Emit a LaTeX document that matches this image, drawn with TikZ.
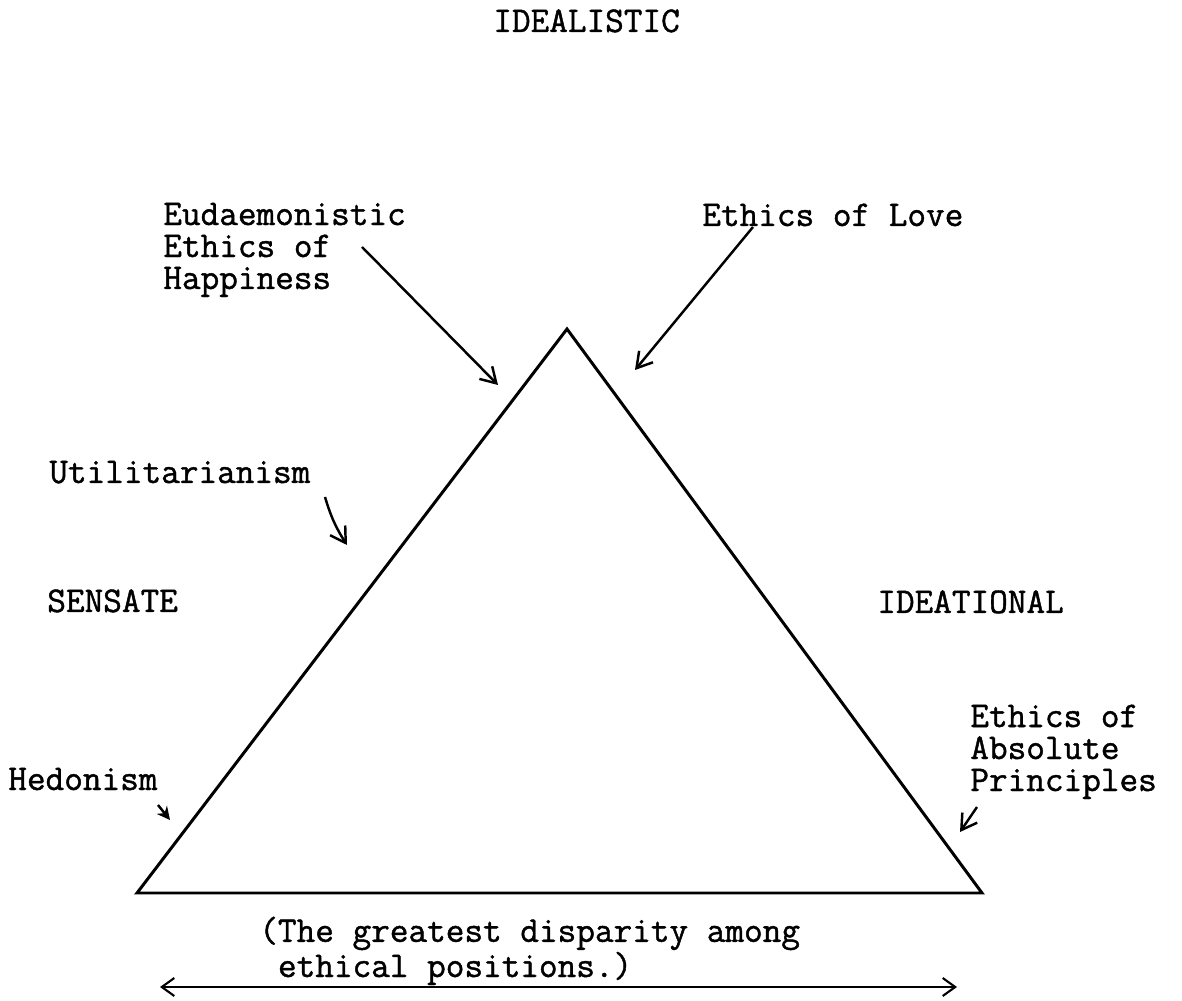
\documentclass[tikz,border=0pt]{standalone}
\usepackage{fontspec}
\setmonofont{Latin Modern Mono}[FakeBold=1.2]
\usepackage{tikz}
\usetikzlibrary{arrows.meta}
\newcommand{\typewrite}{\fontsize{20.6}{18.2}\selectfont\ttfamily}

\begin{document}
\begin{tikzpicture}[
    tag/.style={inner sep=0pt, anchor=base west, align=left, font=\typewrite},
    side/.style={line width=1.7pt, line join=miter},
    pointer/.style={-{Straight Barb[length=3mm, width=3.6mm]}, line width=1.4pt},
    stub/.style={-{Stealth[length=2.6mm, width=2.6mm]}, line width=1.4pt},
    span/.style={{Straight Barb[length=2.5mm, width=3.6mm]}-{Straight Barb[length=2.5mm, width=3.6mm]}, line width=1.2pt},
]
\useasboundingbox (0,0) rectangle (23.64,20);

% Triangle
\coordinate (apex) at (11.34,13.42);
\coordinate (sens) at (2.74,2.14);
\coordinate (idea) at (19.64,2.14);
\draw[side] (sens) -- (apex) -- (idea) -- cycle;

% Corner labels
\node[tag] (idealistic) at (9.86,19.36) {IDEALISTIC};
\node[tag] (sensate) at (0.94,7.76) {SENSATE};
\node[tag] (ideational) at (17.54,7.74) {IDEATIONAL};

% Ethical positions (base = last line)
\node[tag] (eud) at (3.26,14.22) {Eudaemonistic\\Ethics of\\Happiness};
\node[tag] (love) at (14.04,15.48) {Ethics of Love};
\node[tag] (util) at (0.98,10.34) {Utilitarianism};
\node[tag] (hedon) at (0.16,4.2) {Hedonism};
\node[tag] (absol) at (19.4,4.18) {Ethics of\\Absolute\\Principles};

% Arrow ends
\coordinate (eudtail) at (7.24,15.06);
\coordinate (eudtip) at (9.96,12.3);
\coordinate (lovetail) at (15.06,15.46);
\coordinate (lovetip) at (12.7,12.6);
\coordinate (utiltail) at (6.5,10.06);
\coordinate (utiltip) at (6.94,9.1);
\coordinate (hedontail) at (3.16,3.9);
\coordinate (hedontip) at (3.4,3.6);
\coordinate (absoltail) at (19.54,3.86);
\coordinate (absoltip) at (19.2,3.36);

\draw[pointer] (eudtail) -- (eudtip);
\draw[pointer] (lovetail) -- (lovetip);
\draw[pointer] (utiltail) to[bend right=8] (utiltip);
\draw[stub] (hedontail) -- (hedontip);
\draw[pointer] (absoltail) -- (absoltip);

% Disparity note
\node[tag, font=\fontsize{20.6}{14.2}\selectfont\ttfamily] (note) at (5.18,0.46) {(The greatest disparity among\\\phantom{(}ethical positions.)};
\coordinate (spanl) at (3.2,0.26);
\coordinate (spanr) at (19.14,0.26);
\draw[span] (spanl) -- (spanr);

\end{tikzpicture}
\end{document}
